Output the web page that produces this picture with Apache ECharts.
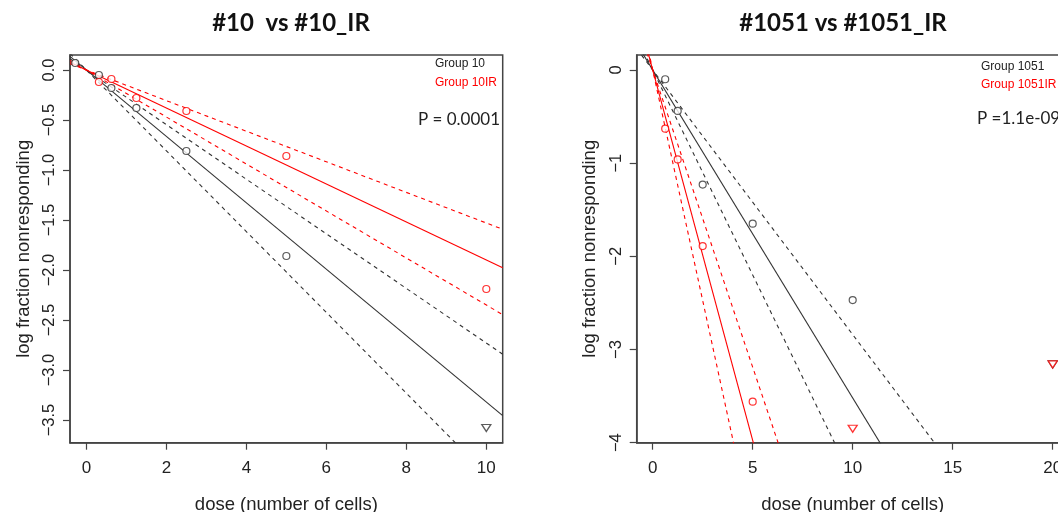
<!DOCTYPE html>
<html><head><meta charset="utf-8">
<script src="https://cdn.jsdelivr.net/npm/echarts@6/dist/echarts.min.js"></script>
<style>html,body{margin:0;padding:0;background:#fff}#c{width:1058px;height:512px}</style>
</head><body><div id="c"></div>
<script>
// ---------- Panel 1 : #10 vs #10_IR ----------
const p1Title = '#10  vs #10_IR';
const p1Groups = ['Group 10', 'Group 10IR'];
const p1PValue = 'P = 0.0001';
const g10Dose = [-0.28, 0.3125, 0.625, 1.25, 2.5, 5];
const g10LogFrac = [0.07, -0.05, -0.18, -0.38, -0.81, -1.86];
const g10CensDose = [10];
const g10CensLogFrac = [-3.58];
const g10IRDose = [0.3125, 0.625, 1.25, 2.5, 5, 10];
const g10IRLogFrac = [-0.12, -0.09, -0.28, -0.41, -0.86, -2.19];
// fitted slopes (log fraction per cell): estimate, upper CI, lower CI
const g10Slopes = [-0.332, -0.273, -0.404];
const g10IRSlopes = [-0.19, -0.153, -0.235];
const p1XTicks = [0, 2, 4, 6, 8, 10];
const p1YTicks = [0, -0.5, -1, -1.5, -2, -2.5, -3, -3.5];

// ---------- Panel 2 : #1051 vs #1051_IR ----------
const p2Title = '#1051 vs #1051_IR';
const p2Groups = ['Group 1051', 'Group 1051IR'];
const p2PValue = 'P =1.1e-09';
const g1051Dose = [0.625, 1.25, 2.5, 5, 10];
const g1051LogFrac = [-0.10, -0.44, -1.23, -1.65, -2.47];
const g1051CensDose = [20];
const g1051CensLogFrac = [-3.16];
const g1051IRDose = [0.625, 1.25, 2.5, 5];
const g1051IRLogFrac = [-0.63, -0.96, -1.89, -3.56];
const g1051IRCensDose = [10, 20];
const g1051IRCensLogFrac = [-3.85, -3.16];
const g1051Slopes = [-0.352, -0.284, -0.44];
const g1051IRSlopes = [-0.795, -0.638, -0.99];
const p2XTicks = [0, 5, 10, 15, 20];
const p2YTicks = [0, -1, -2, -3, -4];

const AX = [[-0.41, 10.41], [-0.8, 20.8]];
const AY = [[-3.727, 0.15], [-4.0, 0.16]];

const BLACK = '#333333', RED = '#ff0000', AXC = '#444444';
const minus = s => String(s).replace('-', '\u2212');

function pts(xs, ys) { return xs.map((x, i) => [x, ys[i]]); }
function fitLine(slope, k) { return [[AX[k][0], slope * AX[k][0]], [AX[k][1], slope * AX[k][1]]]; }

function xAxis(k, ticks) {
  return {
    type: 'value', gridIndex: k, min: AX[k][0], max: AX[k][1],
    name: 'dose (number of cells)', nameLocation: 'middle', nameGap: 53,
    nameTextStyle: { fontFamily: 'Liberation Sans', fontSize: 18.5, color: '#222' },
    axisLine: { show: true, onZero: false, lineStyle: { color: AXC, width: 1.5 } },
    axisTick: { show: true, inside: false, length: 7, customValues: ticks, lineStyle: { color: AXC, width: 1.2 } },
    axisLabel: { customValues: ticks, margin: 17, fontFamily: 'Liberation Sans', fontSize: 17, color: '#222',
      formatter: v => minus(v), hideOverlap: false },
    splitLine: { show: false }
  };
}
function yAxis(k, ticks, dec) {
  return {
    type: 'value', gridIndex: k, min: AY[k][0], max: AY[k][1],
    name: 'log fraction nonresponding', nameLocation: 'middle', nameGap: 37, nameRotate: 90,
    nameTextStyle: { fontFamily: 'Liberation Sans', fontSize: 18.5, color: '#222' },
    axisLine: { show: true, onZero: false, lineStyle: { color: AXC, width: 1.5 } },
    axisTick: { show: true, inside: false, length: 7, customValues: ticks, lineStyle: { color: AXC, width: 1.2 } },
    axisLabel: { customValues: ticks, rotate: 90, margin: 12, fontFamily: 'Liberation Sans', fontSize: 16.5, color: '#222',
      formatter: v => minus(Number(v).toFixed(dec)) },
    splitLine: { show: false }
  };
}

function scatter(k, data, color) {
  return { type: 'scatter', xAxisIndex: k, yAxisIndex: k, data, symbol: 'circle', symbolSize: 7,
    itemStyle: { color: '#fff', borderColor: color, borderWidth: 1.2 }, z: 5 };
}
function censored(k, data, color) {
  return { type: 'scatter', xAxisIndex: k, yAxisIndex: k, data, symbol: 'triangle', symbolRotate: 180, symbolSize: [9, 7],
    itemStyle: { color: '#fff', borderColor: color, borderWidth: 1.3 }, z: 5 };
}
function lines(k, slopes, color) {
  return slopes.map((s, i) => ({
    type: 'line', xAxisIndex: k, yAxisIndex: k, data: fitLine(s, k), showSymbol: false, symbol: 'none',
    clip: true, silent: true,
    lineStyle: { color, width: 1.1, type: i === 0 ? 'solid' : [4, 4] }, z: 3
  }));
}

const series = [].concat(
  lines(0, g10Slopes, BLACK), lines(0, g10IRSlopes, RED),
  [scatter(0, pts(g10Dose, g10LogFrac), BLACK), censored(0, pts(g10CensDose, g10CensLogFrac), BLACK),
   scatter(0, pts(g10IRDose, g10IRLogFrac), RED)],
  lines(1, g1051Slopes, BLACK), lines(1, g1051IRSlopes, RED),
  [scatter(1, pts(g1051Dose, g1051LogFrac), BLACK), censored(1, pts(g1051CensDose, g1051CensLogFrac), BLACK),
   scatter(1, pts(g1051IRDose, g1051IRLogFrac), RED), censored(1, pts(g1051IRCensDose, g1051IRCensLogFrac), RED)]
);

const chart = echarts.init(document.getElementById('c'), null, { renderer: 'canvas' });
chart.setOption({
  animation: false,
  backgroundColor: '#fff',
  title: [
    { text: p1Title, left: 286, top: 6, textAlign: 'center',
      textStyle: { fontFamily: 'Lato', fontWeight: 'bold', fontSize: 24, color: '#111' } },
    { text: p2Title, left: 838, top: 6, textAlign: 'center',
      textStyle: { fontFamily: 'Lato', fontWeight: 'bold', fontSize: 24, color: '#111' } }
  ],
  grid: [
    { left: 70, top: 55, width: 432.7, height: 387.7, show: true, borderColor: AXC, borderWidth: 1.5,
      backgroundColor: 'transparent', containLabel: false, outerBoundsMode: 'none' },
    { left: 636.7, top: 55, width: 432, height: 387.7, show: true, borderColor: AXC, borderWidth: 1.5,
      backgroundColor: 'transparent', containLabel: false, outerBoundsMode: 'none' }
  ],
  xAxis: [xAxis(0, p1XTicks), xAxis(1, p2XTicks)],
  yAxis: [yAxis(0, p1YTicks, 1), yAxis(1, p2YTicks, 0)],
  graphic: [
    { type: 'text', left: 435, top: 58, style: { text: p1Groups[0], fill: '#222', font: '12px "Liberation Sans"' } },
    { type: 'text', left: 435, top: 77, style: { text: p1Groups[1], fill: RED, font: '12px "Liberation Sans"' } },
    { type: 'text', right: 558, top: 111, style: { text: p1PValue, fill: '#222', font: '17px Lato' } },
    { type: 'text', left: 981, top: 61, style: { text: p2Groups[0], fill: '#222', font: '12px "Liberation Sans"' } },
    { type: 'text', left: 981, top: 79, style: { text: p2Groups[1], fill: RED, font: '12px "Liberation Sans"' } },
    { type: 'text', left: 977, top: 110, style: { text: p2PValue, fill: '#222', font: '17px Lato' } }
  ],
  series
});
</script></body></html>
